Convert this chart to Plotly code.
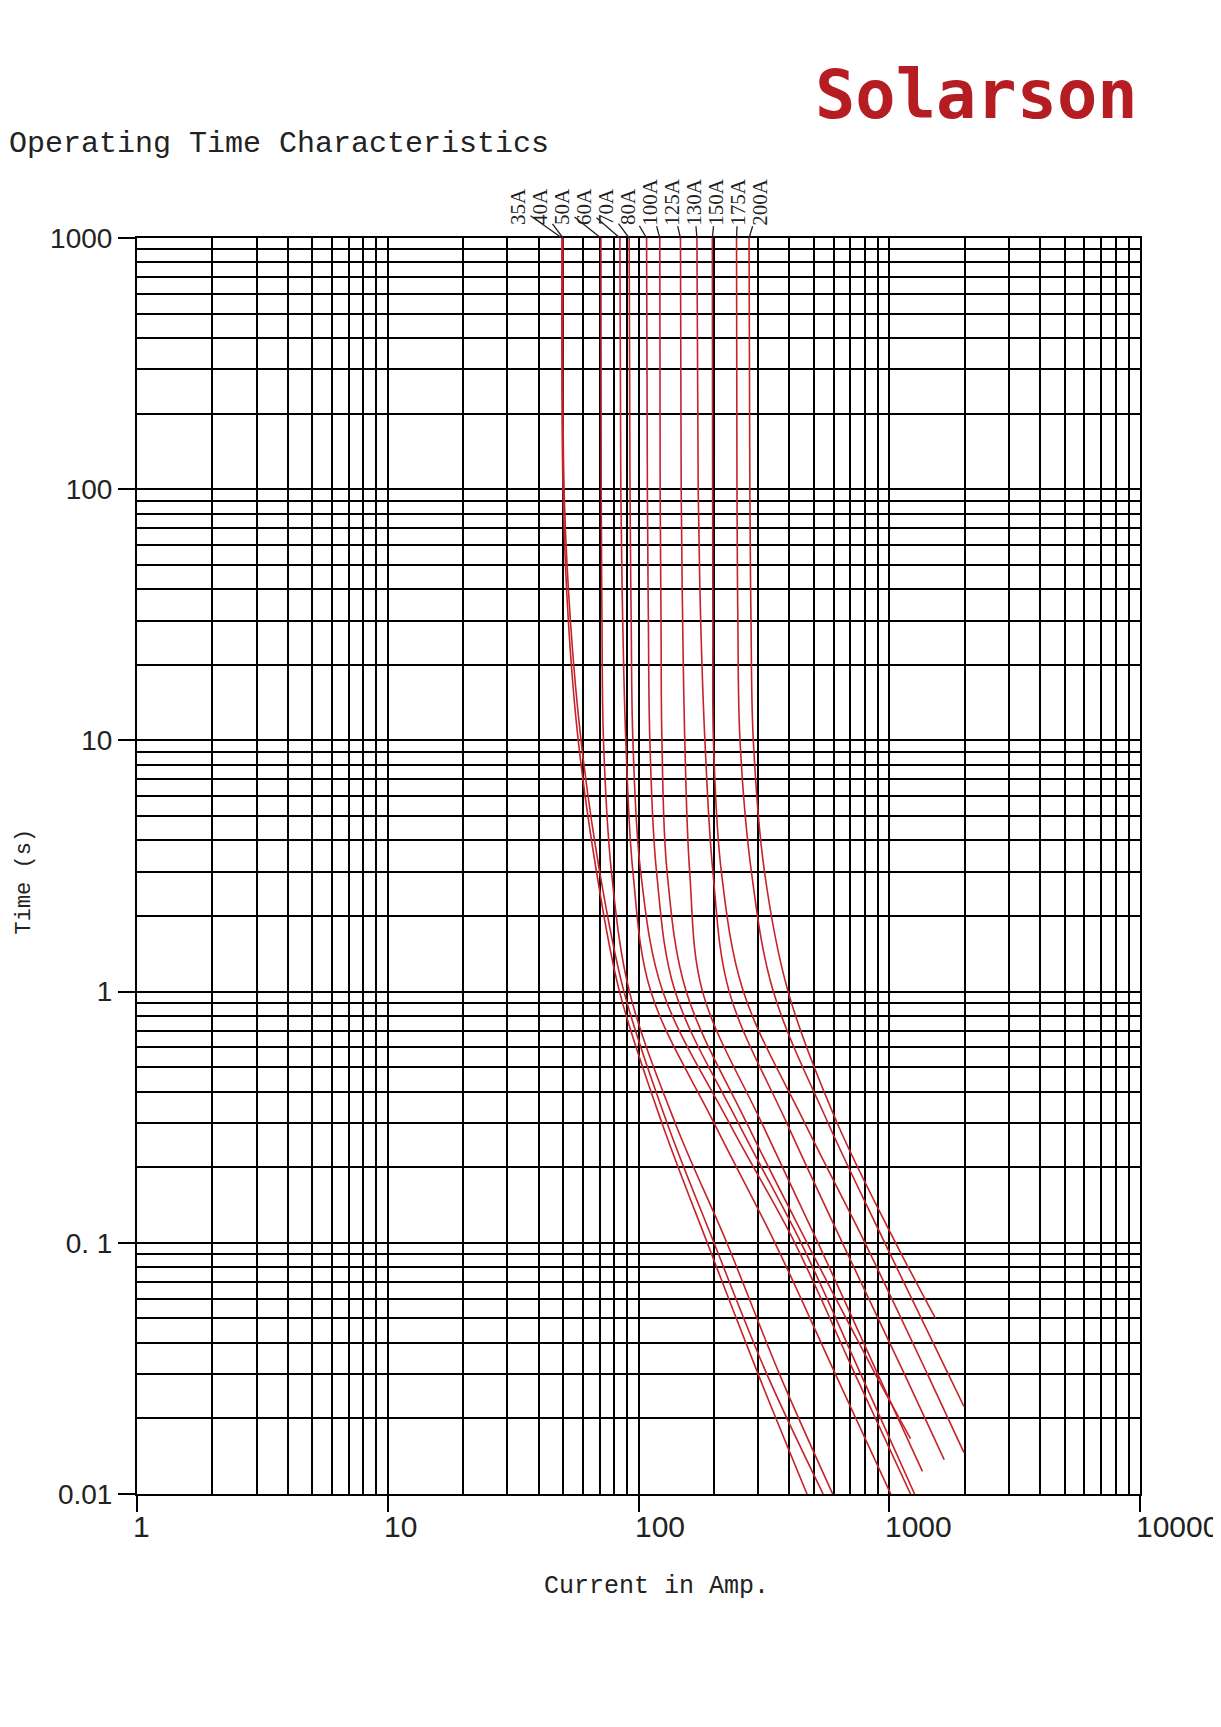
import math
import plotly.graph_objects as go

# ---------------- data ----------------
ratings = ["35A", "40A", "50A", "60A", "70A", "80A",
           "100A", "125A", "130A", "150A", "175A", "200A"]

# time points (s) shared by the curves (each curve stops at its own end time)
time_points = [1000, 100, 30, 10, 3, 1, 0.3, 0.1, 0.03]

# current (A) of each curve at the time points above, then its last point
cur_35A = [49.5, 50, 52.5, 57.5, 68, 84, 124, 188, 300]
cur_40A = [50, 50.5, 53.5, 59, 70, 87.5, 130, 200, 325]
cur_50A = [70.8, 71, 71.5, 72.5, 78, 92, 140, 225, 365]
cur_60A = [84.3, 85, 86.5, 89, 95, 112, 200, 350, 610]
cur_70A = [91.8, 92.5, 93.5, 95, 102, 125, 230, 420, 730]
cur_80A = [107.7, 108.5, 109.5, 111, 118, 140, 250, 445, 770]
cur_100A = [121.6, 122, 123, 124, 130, 155, 270, 470, 880]
cur_125A = [147, 148, 150, 153, 160, 180, 310, 520, 900]
cur_130A = [171, 173, 177, 184, 198, 230, 390, 650, 1150]
cur_150A = [197, 197.5, 198, 199, 214, 262, 460, 800, 1420]
cur_175A = [246, 247, 249, 254, 282, 345, 570, 960, 1720]
cur_200A = [276, 278, 281, 287, 318, 395, 620, 1060]

end_current = [470, 545, 595, 1014, 1216, 1262, 1216, 1356, 1656, 1986, 1986, 1530]
end_time = [0.01, 0.01, 0.01, 0.01, 0.01, 0.01, 0.0166, 0.0123, 0.0137, 0.0146, 0.0223, 0.05]

x_ticks = [1, 10, 100, 1000, 10000]
x_ticktext = ["1", "10", "100", "1000", "10000"]
y_ticks = [0.01, 0.1, 1, 10, 100, 1000]
y_ticktext = ["0.01", "0. 1", "1", "10", "100", "1000"]

curves = [cur_35A, cur_40A, cur_50A, cur_60A, cur_70A, cur_80A,
          cur_100A, cur_125A, cur_130A, cur_150A, cur_175A, cur_200A]

# ---------------- layout geometry ----------------
OFF = 8                      # default page margin of the html body
W, H = 1221 - OFF, 1727 - OFF
L, R, T, B = 137 - OFF, 1140 - OFF, 238 - OFF, 1494 - OFF
PW, PH = R - L, B - T

def px_x(p):                 # reference pixel -> paper x
    return (p - OFF - L) / PW

def px_y(p):                 # reference pixel -> paper y
    return (B - (p - OFF)) / PH

RED = "#C62329"
fig = go.Figure()

for name, cur, ic, it in zip(ratings, curves, end_current, end_time):
    ts = [t for t in time_points if t > it][:len(cur)] + [it]
    xs = list(cur) + [ic]
    fig.add_trace(go.Scatter(
        x=xs, y=ts, mode="lines", name=name,
        line=dict(color=RED, width=1.6, shape="spline", smoothing=1.0),
        hoverinfo="skip", showlegend=False))

minor_x = [m * 10 ** d for d in range(0, 4) for m in range(2, 10)]
minor_y = [m * 10 ** d for d in range(-2, 3) for m in range(2, 10)]

axis_common = dict(
    type="log", showline=True, linecolor="black", linewidth=2, mirror=True,
    showgrid=True, gridcolor="black", gridwidth=2, zeroline=False,
    ticks="outside", tickcolor="black", tickwidth=2,
)

fig.update_xaxes(
    **axis_common, range=[0, 4], tickmode="array", tickvals=x_ticks,
    showticklabels=False, ticklen=16,
    minor=dict(tickmode="array", tickvals=minor_x, showgrid=True,
               gridcolor="black", gridwidth=2, ticks=""))
fig.update_yaxes(
    **axis_common, range=[-2, 3], tickmode="array", tickvals=y_ticks,
    ticktext=y_ticktext, ticklen=17,
    tickfont=dict(family="Liberation Sans", size=28, color="#222"),
    minor=dict(tickmode="array", tickvals=minor_y, showgrid=True,
               gridcolor="black", gridwidth=2, ticks=""))

annotations = []
# x tick labels (left aligned at the tick, as in the reference)
for v, txt in zip(x_ticks, x_ticktext):
    annotations.append(dict(
        x=math.log10(v), xref="x", y=px_y(1526), yref="paper",
        text=txt, showarrow=False, xanchor="left", yanchor="middle", xshift=-6,
        font=dict(family="Liberation Sans", size=30, color="#222")))

# axis titles
annotations.append(dict(
    x=px_x(656), y=px_y(1586), xref="paper", yref="paper",
    text="Current in Amp.", showarrow=False, xanchor="center", yanchor="middle",
    font=dict(family="Liberation Mono", size=25, color="#222")))
annotations.append(dict(
    x=px_x(9), y=px_y(882), xref="paper", yref="paper",
    text="Time (s)", showarrow=False, textangle=-90, xanchor="left", yanchor="middle",
    font=dict(family="Liberation Mono", size=22, color="#222")))

# chart title and logo
annotations.append(dict(
    x=px_x(8), y=px_y(144), xref="paper", yref="paper",
    text="Operating Time Characteristics", showarrow=False,
    xanchor="left", yanchor="middle", xshift=-1,
    font=dict(family="Liberation Mono", size=30, color="#222")))
annotations.append(dict(
    x=px_x(976), y=px_y(95), xref="paper", yref="paper",
    text="<b>Solarson</b>", showarrow=False, xanchor="center", yanchor="middle",
    font=dict(family="DejaVu Sans Mono", size=67, color="#B51D22")))

# rotated curve labels above the chart with short leader lines
label_x0, label_step, label_size = 518, 22, 21
for i, (name, cur) in enumerate(zip(ratings, curves)):
    lx = label_x0 - OFF + i * label_step
    text_len = (0.5 * (len(name) - 1) + 0.72) * label_size
    annotations.append(dict(
        x=math.log10(cur[0]), xref="x", y=3, yref="y",
        ax=(lx - L) / PW * 4, axref="x", ay=-(13 + text_len / 2), ayref="pixel",
        text=name, textangle=-90, showarrow=True, arrowhead=0,
        arrowwidth=1.3, arrowcolor="#222", borderpad=0,
        font=dict(family="Liberation Serif", size=label_size, color="#222")))

fig.update_layout(
    width=W, height=H,
    margin=dict(l=L, r=W - R, t=T, b=H - B, autoexpand=False),
    paper_bgcolor="white", plot_bgcolor="white",
    annotations=annotations, showlegend=False)

fig.write_html("out.html")
